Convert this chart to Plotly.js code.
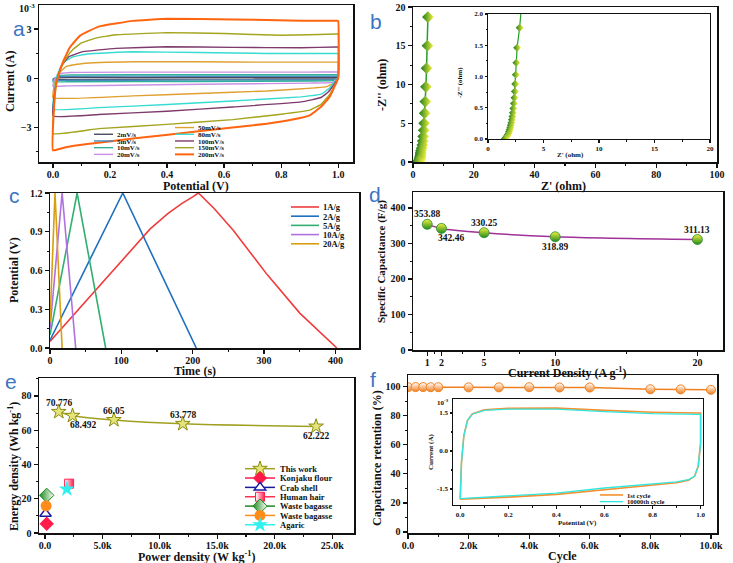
<!DOCTYPE html>
<html><head><meta charset="utf-8">
<script src="https://cdn.plot.ly/plotly-3.0.1.min.js"></script>
<style>html,body{margin:0;padding:0;background:#fff}#chart{width:733px;height:563px}</style>
</head><body><div id="chart"></div>
<script>
// ---------- DATA ----------
// (a) CV curves, current in 1e-3 A
const cv2_x = [0, 0.005, 0.02, 0.06, 0.5, 0.995, 1.0, 1.0, 0.98, 0.9, 0.5, 0.05, 0.0];
const cv2_y = [-0.07, -0.02, 0.04, 0.05, 0.05, 0.05, 0.05, 0.0, -0.05, -0.05, -0.06, -0.07, -0.07];
const cv5_x = [0, 0.005, 0.02, 0.06, 0.5, 0.995, 1.0, 1.0, 0.98, 0.9, 0.5, 0.05, 0.0];
const cv5_y = [-0.13, -0.03, 0.09, 0.12, 0.12, 0.12, 0.12, 0.0, -0.1, -0.11, -0.12, -0.13, -0.13];
const cv10_x = [0, 0.005, 0.02, 0.06, 0.5, 0.995, 1.0, 1.0, 0.98, 0.9, 0.5, 0.05, 0.0];
const cv10_y = [-0.22, -0.05, 0.15, 0.2, 0.21, 0.21, 0.21, 0.0, -0.15, -0.17, -0.2, -0.22, -0.22];
const cv20_x = [0, 0.005, 0.02, 0.06, 0.3, 0.6, 0.9, 0.995, 1.0, 1.0, 0.98, 0.9, 0.6, 0.3, 0.05, 0.0];
const cv20_y = [-0.49, -0.1, 0.25, 0.35, 0.37, 0.37, 0.37, 0.38, 0.38, 0.0, -0.26, -0.3, -0.36, -0.42, -0.47, -0.49];
const cv50_x = [0, 0.005, 0.02, 0.047, 0.105, 0.28, 0.51, 0.75, 0.995, 1.0, 1.0, 0.985, 0.96, 0.92, 0.75, 0.51, 0.28, 0.0];
const cv50_y = [-1.2, -0.4, 0.3, 0.72, 0.9, 1.0, 1.0, 0.98, 0.98, 0.98, 0.0, -0.3, -0.52, -0.59, -0.78, -0.94, -1.08, -1.2];
const cv80_x = [0, 0.005, 0.015, 0.035, 0.07, 0.12, 0.28, 0.51, 0.75, 0.995, 1.0, 1.0, 0.985, 0.97, 0.94, 0.87, 0.63, 0.4, 0.16, 0.0];
const cv80_y = [-1.9, -0.8, 0.2, 0.95, 1.3, 1.48, 1.61, 1.57, 1.51, 1.51, 1.5, 0.0, -0.25, -0.6, -0.98, -1.14, -1.39, -1.61, -1.8, -1.9];
const cv100_x = [0, 0.005, 0.015, 0.03, 0.055, 0.105, 0.22, 0.4, 0.63, 0.87, 0.995, 1.0, 1.0, 0.985, 0.965, 0.94, 0.87, 0.63, 0.4, 0.16, 0.0];
const cv100_y = [-2.31, -1.0, 0.0, 0.75, 1.3, 1.62, 1.82, 1.92, 1.88, 1.86, 1.9, 1.9, 0.0, -0.4, -0.85, -1.18, -1.45, -1.76, -2.02, -2.22, -2.31];
const cv150_x = [0, 0.005, 0.012, 0.025, 0.045, 0.07, 0.1, 0.15, 0.22, 0.4, 0.6, 0.8, 0.995, 1.0, 1.0, 0.985, 0.97, 0.94, 0.9, 0.8, 0.63, 0.4, 0.16, 0.0];
const cv150_y = [-3.39, -1.5, -0.3, 0.5, 1.2, 1.75, 2.15, 2.45, 2.65, 2.78, 2.73, 2.62, 2.7, 2.7, 0.0, -0.55, -1.0, -1.6, -1.95, -2.2, -2.53, -2.82, -3.08, -3.39];
const cv200_x = [0, 0.003, 0.01, 0.02, 0.035, 0.06, 0.095, 0.16, 0.28, 0.4, 0.63, 0.87, 0.995, 1.0, 1.0, 0.985, 0.97, 0.94, 0.9, 0.84, 0.75, 0.51, 0.28, 0.05, 0.0];
const cv200_y = [-4.41, -2.0, -0.5, 0.2, 1.0, 1.9, 2.6, 3.15, 3.5, 3.63, 3.59, 3.51, 3.51, 3.5, 0.0, -0.6, -1.14, -1.75, -2.27, -2.53, -2.78, -3.24, -3.69, -4.2, -4.41];
const cvNames = ['2mV/s','5mV/s','10mV/s','20mV/s','50mV/s','80mV/s','100mV/s','150mV/s','200mV/s'];

// (b) Nyquist
const eis_zre = [4.9, 4.75, 4.45, 4.25, 4.05, 3.85, 3.65, 3.5, 3.35, 3.2, 3.05, 2.85, 2.62, 2.55, 2.5, 2.45, 2.42, 2.38, 2.33, 2.28, 2.24, 2.2, 2.15, 2.1, 2.05, 2.0, 1.95, 1.9, 1.85, 1.78, 1.72, 1.65, 1.6, 1.55, 1.5];
const eis_zim = [18.7, 15.0, 12.1, 9.7, 7.8, 6.3, 5.0, 4.1, 3.3, 2.7, 2.2, 1.78, 1.46, 1.22, 1.03, 0.88, 0.76, 0.66, 0.57, 0.49, 0.42, 0.36, 0.31, 0.26, 0.22, 0.18, 0.15, 0.12, 0.09, 0.07, 0.05, 0.03, 0.02, 0.01, 0.0];

// (c) GCD
const gcd1_t = [0, 50, 100, 140, 165, 185, 200, 208, 230, 257, 304, 350, 402];
const gcd1_v = [0.05, 0.36, 0.67, 0.92, 1.04, 1.12, 1.17, 1.2, 1.08, 0.91, 0.57, 0.27, 0.0];
const gcd2_t = [0, 102, 205];
const gcd2_v = [0.06, 1.2, 0.0];
const gcd5_t = [0, 38, 78];
const gcd5_v = [0.1, 1.2, 0.0];
const gcd10_t = [0, 17, 36];
const gcd10_v = [0.15, 1.2, 0.0];
const gcd20_t = [0, 7, 17];
const gcd20_v = [0.2, 1.2, 0.0];
const gcdNames = ['1A/g','2A/g','5A/g','10A/g','20A/g'];

// (d) specific capacitance
const cd_current = [1, 2, 5, 10, 20];
const cd_cap = [353.88, 342.46, 330.25, 318.89, 311.13];

// (e) Ragone
const rg_power = [1200, 2400, 6000, 12000, 23600];
const rg_energy = [70.776, 68.492, 66.05, 63.778, 62.222];
const cmpNames = ['Konjaku flour','Crab shell','Human hair','Waste bagasse','Waste bagasse','Agaric'];
const cmp_power = [150, 50, 2100, 150, 100, 1900];
const cmp_energy = [5.4, 11.2, 28.8, 22.0, 15.9, 25.6];

// (f) cycling
const cyc_n = [0, 250, 500, 750, 1000, 2000, 3000, 4000, 5000, 6000, 8000, 9000, 10000];
const cyc_ret = [99.6, 99.7, 99.7, 99.6, 99.6, 99.5, 99.5, 99.6, 99.4, 99.4, 98.2, 98.1, 97.8];
const cvc_x = [0, 0.005, 0.015, 0.03, 0.05, 0.1, 0.2, 0.3, 0.4, 0.6, 0.8, 0.99, 1.0, 1.0, 0.99, 0.975, 0.95, 0.9, 0.8, 0.6, 0.4, 0.2, 0.02, 0.0];
const cvc1_y = [-1.9, -0.5, 0.6, 1.2, 1.46, 1.62, 1.68, 1.7, 1.69, 1.6, 1.53, 1.5, 1.5, 0.3, -0.6, -1.0, -1.15, -1.25, -1.34, -1.5, -1.71, -1.82, -1.9, -1.9];
const cvc2_y = [-1.88, -0.5, 0.6, 1.2, 1.45, 1.6, 1.65, 1.66, 1.65, 1.55, 1.47, 1.44, 1.44, 0.3, -0.6, -1.0, -1.13, -1.22, -1.3, -1.46, -1.66, -1.78, -1.86, -1.88];
const cycNames = ['1st cycle', '10000th cycle'];

// ---------- STYLE ----------
const W = 733, H = 563;
const SERIF = 'Liberation Serif, Times New Roman, serif';
const px2x = p => p / W, px2y = p => 1 - p / H;
const dx = (a, b) => [px2x(a), px2x(b)];
const dy = (top, bot) => [px2y(bot), px2y(top)];

function ax(domain, range, anchor, extra) {
  return Object.assign({
    domain, range, anchor, showline: true, mirror: true, linecolor: '#111', linewidth: 1.5,
    ticks: 'outside', ticklen: 4, tickwidth: 1.2, tickcolor: '#111', showgrid: false, zeroline: false,
    tickfont: {family: SERIF, size: 10, weight: 'bold', color: '#111'}, fixedrange: true,
    minor: {ticks: 'outside', ticklen: 2, tickwidth: 1, tickcolor: '#111'}
  }, extra || {});
}
const xax = (d, r, a, e) => ax(d, r, a, Object.assign({ticklabelstandoff: -2}, e || {}));
const smallFont = {family: SERIF, size: 7, weight: 'bold', color: '#111'};

const cvColors = ['#4a4a5c', '#4a88c0', '#2eb09a', '#c890e4', '#e0a030', '#36dcd2', '#7e3a6c', '#a4a41e', '#ff6410'];
const cvX = [cv2_x, cv5_x, cv10_x, cv20_x, cv50_x, cv80_x, cv100_x, cv150_x, cv200_x];
const cvY = [cv2_y, cv5_y, cv10_y, cv20_y, cv50_y, cv80_y, cv100_y, cv150_y, cv200_y];

const traces = [];
cvNames.forEach((n, i) => traces.push({
  x: cvX[i], y: cvY[i], mode: 'lines', name: n, xaxis: 'x', yaxis: 'y',
  line: {color: cvColors[i], width: i === 8 ? 2 : 1.4, shape: 'spline', smoothing: 0.3}, legend: i < 4 ? 'legend' : 'legend2'
}));

const eisMarker = s => ({symbol: 'diamond', size: s, color: '#1c7a1c', gradient: {type: 'horizontal', color: '#f2f23a'}, line: {width: 0}});
traces.push({x: eis_zre, y: eis_zim, mode: 'lines+markers', xaxis: 'x2', yaxis: 'y2', showlegend: false,
  line: {color: '#22a022', width: 1.5}, marker: eisMarker(9)});
traces.push({x: eis_zre, y: eis_zim, mode: 'lines+markers', xaxis: 'x3', yaxis: 'y3', showlegend: false,
  line: {color: '#22a022', width: 1.2}, marker: eisMarker(6)});

const gcdColors = ['#f03c3c', '#2070c0', '#30b070', '#b070e0', '#d8a010'];
const gcdT = [gcd1_t, gcd2_t, gcd5_t, gcd10_t, gcd20_t];
const gcdV = [gcd1_v, gcd2_v, gcd5_v, gcd10_v, gcd20_v];
gcdNames.forEach((n, i) => traces.push({x: gcdT[i], y: gcdV[i], mode: 'lines', name: n, xaxis: 'x4', yaxis: 'y4',
  line: {color: gcdColors[i], width: 1.6}, legend: 'legend3'}));

traces.push({x: cd_current, y: cd_cap, mode: 'lines+markers', xaxis: 'x5', yaxis: 'y5', showlegend: false,
  line: {color: '#a0309a', width: 1.5, shape: 'spline'},
  marker: {symbol: 'circle', size: 10, color: '#f0f040', gradient: {type: 'vertical', color: '#1e8a1e'}, line: {color: '#2a8a2a', width: 0.8}}});

traces.push({x: rg_power, y: rg_energy, mode: 'lines+markers', name: 'This work', xaxis: 'x6', yaxis: 'y6', legend: 'legend4',
  line: {color: '#a0a020', width: 1.5, shape: 'spline'},
  marker: {symbol: 'star', size: 11, color: '#e4e478', line: {color: '#8a8a10', width: 1}}});
const cmpStyle = [
  {line: '#ff1a4a', marker: {symbol: 'diamond', size: 11, color: '#ff1a4a', line: {width: 0}}},
  {line: '#1a1aa0', marker: {symbol: 'triangle-up', size: 10, color: '#ffffff', line: {color: '#1a1aa0', width: 1.5}}},
  {line: '#ff3050', marker: {symbol: 'square', size: 9, color: '#ffffff', gradient: {type: 'horizontal', color: '#ff2050'}, line: {color: '#ff2050', width: 1}}},
  {line: '#1c8a1c', marker: {symbol: 'diamond', size: 11, color: '#1c8a1c', gradient: {type: 'horizontal', color: '#ffffff'}, line: {color: '#1c8a1c', width: 1}}},
  {line: '#ff8c1a', marker: {symbol: 'circle', size: 11, color: '#ff8c1a', line: {width: 0}}},
  {line: '#30f0f0', marker: {symbol: 'star', size: 12, color: '#30f0f0', line: {width: 0}}}
];
cmpNames.forEach((n, i) => traces.push({x: [cmp_power[i]], y: [cmp_energy[i]], mode: 'lines+markers', name: n,
  xaxis: 'x6', yaxis: 'y6', legend: 'legend4', line: {color: cmpStyle[i].line, width: 1.5}, marker: cmpStyle[i].marker}));

traces.push({x: cyc_n, y: cyc_ret, mode: 'lines+markers', xaxis: 'x7', yaxis: 'y7', showlegend: false,
  line: {color: '#f08020', width: 1.5},
  marker: {symbol: 'circle', size: 9, color: '#ffffff', gradient: {type: 'vertical', color: '#f08020'}, line: {color: '#f08020', width: 1}}});
traces.push({x: cvc_x, y: cvc1_y, mode: 'lines', name: cycNames[0], xaxis: 'x8', yaxis: 'y8', legend: 'legend5',
  line: {color: '#f59030', width: 1.6}});
traces.push({x: cvc_x, y: cvc2_y, mode: 'lines', name: cycNames[1], xaxis: 'x8', yaxis: 'y8', legend: 'legend5',
  line: {color: '#30e8e0', width: 1.3}});

// ---------- ANNOTATIONS ----------
function A(text, x, y, o) {
  o = o || {};
  return {text, xref: 'paper', yref: 'paper', x: px2x(x), y: px2y(y), showarrow: false,
    xanchor: o.xa || 'center', yanchor: o.ya || 'middle', textangle: o.ang || 0,
    font: o.font || {family: SERIF, size: 12, weight: 'bold', color: '#111'}};
}
const lblFont = {family: 'Liberation Sans, Arial, sans-serif', size: 21, color: '#3c74c4'};
const annotations = [
  A('a', 19, 28, {font: lblFont}), A('b', 376, 22, {font: lblFont}), A('c', 14, 196, {font: lblFont}),
  A('d', 375, 195, {font: lblFont}), A('e', 11, 381, {font: lblFont}), A('f', 373, 379, {font: lblFont}),
  A('Potential (V)', 196, 186), A('Current (A)', 10, 82, {ang: -90}),
  A('10<sup>-3</sup>', 27, 8, {font: {family: SERIF, size: 10, weight: 'bold', color: '#111'}}),
  A("Z' (ohm)", 563, 186), A("-Z'' (ohm)", 382, 85, {ang: -90}),
  A("Z' (ohm)", 570, 155, {font: smallFont}), A("-Z'' (ohm)", 460, 83, {ang: -90, font: smallFont}),
  A('Time (s)', 195, 371), A('Potential (V)', 14, 270, {ang: -90}),
  A('Current Density (A g<sup>-1</sup>)', 567, 372), A('Specific Capacitance (F/g)', 381, 262, {ang: -90, font: {family: SERIF, size: 11, weight: 'bold', color: '#111'}}),
  A('Power density (W kg<sup>-1</sup>)', 197, 556), A('Energy density (Wh kg<sup>-1</sup>)', 13, 467, {ang: -90}),
  A('Cycle', 562, 556), A('Capacitance retention (%)', 377, 458, {ang: -90}),
  A('Potential (V)', 577, 523, {font: smallFont}), A('Current (A)', 431, 452, {ang: -90, font: smallFont}),
  A('10<sup>-3</sup>', 443, 402, {font: smallFont})
];
const valFont = {family: SERIF, size: 9.5, weight: 'bold', color: '#111'};
const cdShift = [[0, 10], [10, -10], [0, 10], [0, -10], [0, 10]];
cd_current.forEach((c, i) => annotations.push({text: cd_cap[i].toFixed(2), xref: 'x5', yref: 'y5', x: c, y: cd_cap[i],
  showarrow: false, xshift: cdShift[i][0], yshift: cdShift[i][1], font: valFont}));
const rgShift = [[0, 9], [10, -9], [0, 9], [0, 9], [0, -10]];
rg_power.forEach((p, i) => annotations.push({text: String(rg_energy[i]), xref: 'x6', yref: 'y6', x: p, y: rg_energy[i],
  showarrow: false, xshift: rgShift[i][0], yshift: rgShift[i][1], font: valFont}));

const legBase = f => ({x: 0.5, y: 0.5, xanchor: 'left', yanchor: 'top', bgcolor: 'rgba(0,0,0,0)', borderwidth: 0,
  tracegroupgap: 0, font: f});
const legF = s => ({family: SERIF, size: s, weight: 'bold', color: '#111'});

const layout = {
  width: W, height: H, margin: {l: 0, r: 0, t: 0, b: 0, autoexpand: false},
  paper_bgcolor: '#fff', plot_bgcolor: 'rgba(0,0,0,0)', showlegend: true,
  font: {family: SERIF, color: '#111'},
  xaxis: xax(dx(39, 353), [-0.049, 1.052], 'y', {dtick: 0.2, tickformat: '.1f', minor: {ticks: 'outside', ticklen: 2, dtick: 0.1, tickcolor: '#111'}}),
  yaxis: ax(dy(5, 162), [-5.12, 4.47], 'x', {tickvals: [-3, 0, 3], minor: {ticks: 'outside', ticklen: 2, tickvals: [-4.5, -1.5, 1.5], tickcolor: '#111'}}),
  xaxis2: xax(dx(413, 717), [0, 100], 'y2', {dtick: 20, minor: {ticks: 'outside', ticklen: 2, dtick: 10, tickcolor: '#111'}}),
  yaxis2: ax(dy(7, 162), [0, 20], 'x2', {dtick: 5, minor: {ticks: 'outside', ticklen: 2, dtick: 2.5, tickcolor: '#111'}}),
  xaxis3: ax(dx(488, 710), [0, 20], 'y3', {dtick: 5, linewidth: 1, ticklen: 2.5, tickfont: smallFont, minor: {ticks: 'outside', ticklen: 1.5, dtick: 2.5, tickcolor: '#111'}}),
  yaxis3: ax(dy(14, 139), [0, 2], 'x3', {dtick: 0.5, tickformat: '.1f', linewidth: 1, ticklen: 2.5, tickfont: smallFont, minor: {ticks: 'outside', ticklen: 1.5, dtick: 0.25, tickcolor: '#111'}}),
  xaxis4: xax(dx(50, 359), [0, 433], 'y4', {dtick: 100, minor: {ticks: 'outside', ticklen: 2, dtick: 50, tickcolor: '#111'}}),
  yaxis4: ax(dy(193, 348), [0, 1.2], 'x4', {dtick: 0.3, tickformat: '.1f', minor: {ticks: 'outside', ticklen: 2, dtick: 0.15, tickcolor: '#111'}}),
  xaxis5: xax(dx(413, 723), [0, 21.8], 'y5', {tickvals: cd_current, minor: {ticks: 'outside', ticklen: 2, tickvals: [1.5, 3.5, 7.5, 15], tickcolor: '#111'}}),
  yaxis5: ax(dy(192, 350), [0, 445], 'x5', {dtick: 100, minor: {ticks: 'outside', ticklen: 2, dtick: 50, tickcolor: '#111'}}),
  xaxis6: xax(dx(39, 354), [-520, 26900], 'y6', {tickvals: [0, 5000, 10000, 15000, 20000, 25000], ticktext: ['0.0', '5.0k', '10.0k', '15.0k', '20.0k', '25.0k'], minor: {ticks: 'outside', ticklen: 2, tickvals: [2500, 7500, 12500, 17500, 22500], tickcolor: '#111'}}),
  yaxis6: ax(dy(378, 533), [0, 90.5], 'x6', {dtick: 20, minor: {ticks: 'outside', ticklen: 2, dtick: 10, tickcolor: '#111'}}),
  xaxis7: xax(dx(408, 717), [0, 10200], 'y7', {tickvals: [0, 2000, 4000, 6000, 8000, 10000], ticktext: ['0.0', '2.0k', '4.0k', '6.0k', '8.0k', '10.0k'], minor: {ticks: 'outside', ticklen: 2, tickvals: [1000, 3000, 5000, 7000, 9000], tickcolor: '#111'}}),
  yaxis7: ax(dy(375, 533), [-0.7, 108], 'x7', {dtick: 20, minor: {ticks: 'outside', ticklen: 2, dtick: 10, tickcolor: '#111'}}),
  xaxis8: ax(dx(453, 703), [-0.03, 1.01], 'y8', {dtick: 0.2, tickformat: '.1f', linewidth: 1, ticklen: 2.5, tickfont: smallFont, minor: {ticks: 'outside', ticklen: 1.5, dtick: 0.1, tickcolor: '#111'}}),
  yaxis8: ax(dy(399, 505), [-2.13, 2.05], 'x8', {tickvals: [-1.5, 0, 1.5], ticktext: ['-1.5', '0.0', '1.5'], linewidth: 1, ticklen: 2.5, tickfont: smallFont, minor: {ticks: 'outside', ticklen: 1.5, tickvals: [-0.75, 0.75], tickcolor: '#111'}}),
  legend: legBase(legF(7)), legend2: legBase(legF(7)), legend3: legBase(legF(8.5)),
  legend4: legBase(legF(8.5)), legend5: legBase(legF(6.5)),
  annotations
};

// compact legend placement (Plotly legends have a fixed minimum row height)
function squeeze(gd, id, textLeft, firstY, gap, lineStart) {
  try {
    let g = null;
    gd.querySelectorAll('g').forEach(el => { if (!g && el.classList.contains(id) && el.querySelector('g.traces')) g = el; });
    if (!g) return;
    const items = g.querySelectorAll('g.traces');
    const m0 = /translate\(\s*([-\d.e]+)[ ,]+([-\d.e]+)/.exec(items[0].getAttribute('transform') || '');
    const x0 = m0 ? +m0[1] : 0, y0 = m0 ? +m0[2] : 0;
    items.forEach((it, i) => it.setAttribute('transform', `translate(${x0},${y0 + i * gap})`));
    if (lineStart) g.querySelectorAll('g.legendlines path').forEach(p => p.setAttribute('d', `M${lineStart},0h${36 - lineStart}`));
    const sb = g.querySelector('.scrollbox'); if (sb) sb.removeAttribute('clip-path');
    const bg = g.querySelector('rect.bg'); if (bg) bg.setAttribute('fill-opacity', 0);
    const t = items[0].querySelector('text');
    if (!t) return;
    const r = t.getBoundingClientRect(), root = gd.getBoundingClientRect();
    const curX = r.left - root.left, curY = (r.top + r.bottom) / 2 - root.top;
    const mg = /translate\(\s*([-\d.e]+)[ ,]+([-\d.e]+)/.exec(g.getAttribute('transform') || '');
    const gx = mg ? +mg[1] : 0, gy = mg ? +mg[2] : 0;
    g.setAttribute('transform', `translate(${gx + textLeft - curX},${gy + firstY - curY})`);
  } catch (e) { console.log(e); }
}

Plotly.newPlot('chart', traces, layout, {displayModeBar: false, staticPlot: true}).then(gd => {
  squeeze(gd, 'legend', 117, 135, 6.7, 17);
  squeeze(gd, 'legend2', 198, 128.3, 6.7, 17);
  squeeze(gd, 'legend3', 323, 207.3, 9.2, 8);
  squeeze(gd, 'legend4', 280, 469, 9.35, 0);
  squeeze(gd, 'legend5', 627, 495, 6.7, 13);
});
</script></body></html>
